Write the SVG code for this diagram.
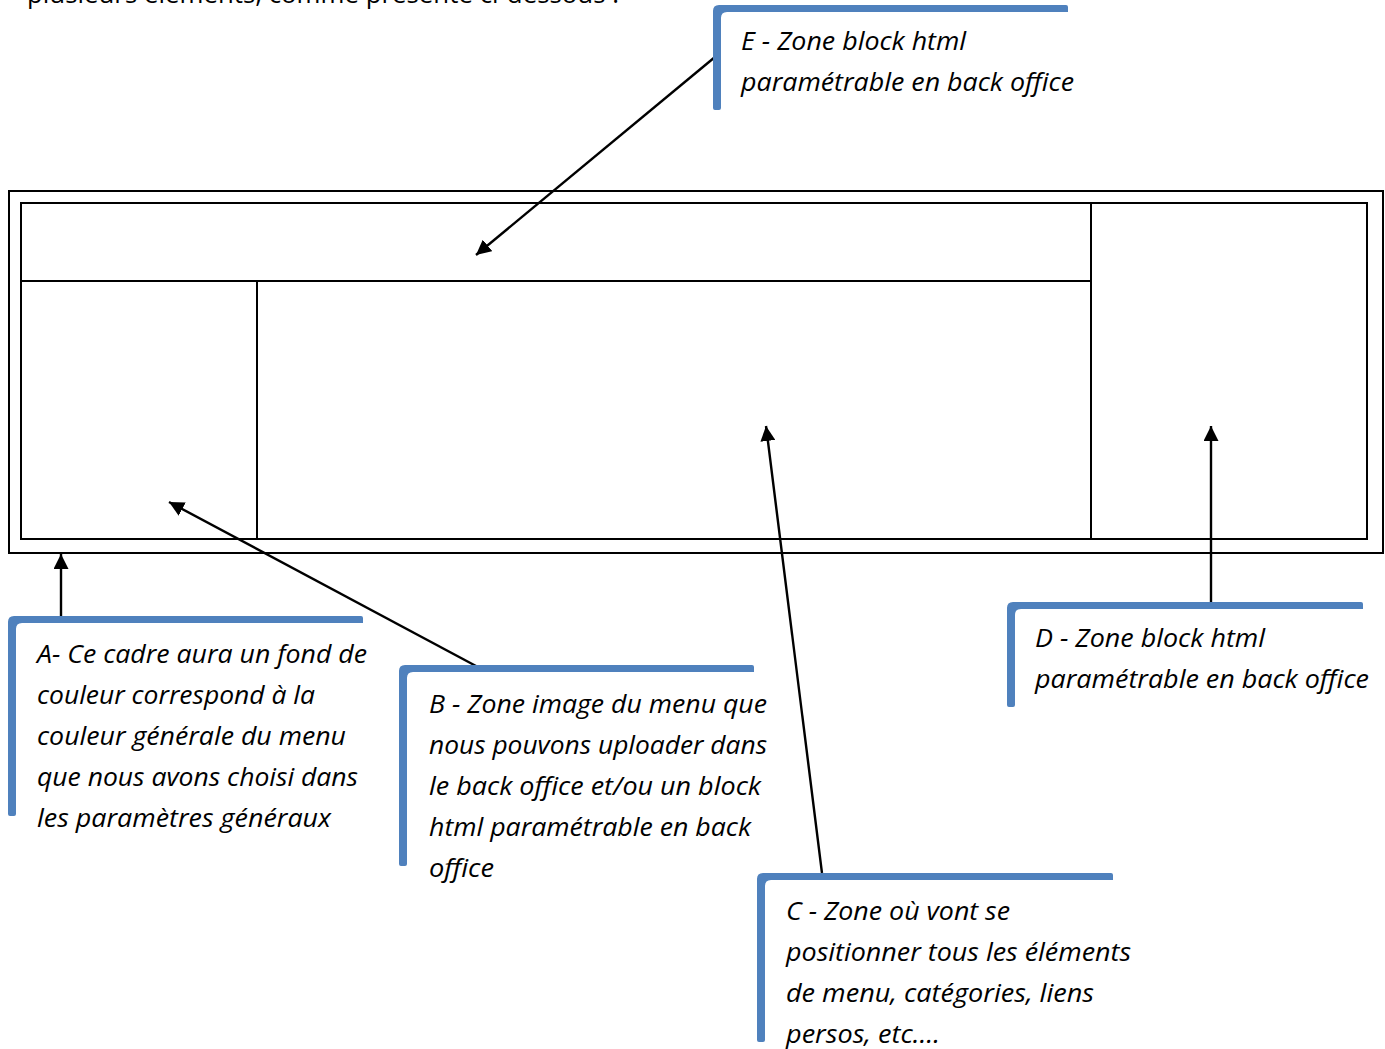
<svg xmlns="http://www.w3.org/2000/svg" width="1385" height="1049" viewBox="0 0 1385 1049">
<defs>
<marker id="arr" viewBox="0 0 12 12" refX="12" refY="6" markerWidth="15" markerHeight="15" orient="auto" markerUnits="userSpaceOnUse">
<path d="M0,0 L12,6 L0,12 Z" fill="#000"/>
</marker>
</defs>
<style>
.frame{fill:none;stroke:#000;stroke-width:2}
.conn{fill:none;stroke:#000;stroke-width:2.4;marker-end:url(#arr)}
.bar{fill:#4F81BD}
.lbl{font-family:"Open Sans","Noto Sans","Liberation Sans",sans-serif;font-style:italic;font-size:25px;fill:#000}
.top{font-family:"Open Sans","Noto Sans","Liberation Sans",sans-serif;font-size:25px;fill:#000}
</style>
<rect width="1385" height="1049" fill="#fff"/>
<text class="top" x="27" y="3" textLength="592" lengthAdjust="spacingAndGlyphs">plusieurs éléments, comme présenté ci-dessous :</text>
<g id="layout">
<rect class="frame" x="9" y="191" width="1374" height="362"/>
<rect class="frame" x="21" y="203" width="1346" height="336"/>
<line class="frame" x1="21" y1="281" x2="1091" y2="281"/>
<line class="frame" x1="257" y1="281" x2="257" y2="539"/>
<line class="frame" x1="1091" y1="203" x2="1091" y2="539"/>
</g>
<g id="connectors">
<line class="conn" x1="715" y1="57" x2="476" y2="255"/>
<line class="conn" x1="61" y1="617" x2="61" y2="554"/>
<line class="conn" x1="476" y1="666" x2="169" y2="502"/>
<line class="conn" x1="822" y1="873" x2="766" y2="426"/>
<line class="conn" x1="1211" y1="602" x2="1211" y2="426"/>
</g>
<g id="callout-E">
<path class="bar" d="M719,5 H1066 Q1068,5 1068,7 V12 H727 Q721,12 721,18 V108 Q721,110 719,110 H715 Q713,110 713,108 V11 Q713,5 719,5 Z"/>
<text class="lbl" x="741" y="50" textLength="225" lengthAdjust="spacingAndGlyphs">E - Zone block html</text>
<text class="lbl" x="741" y="91" textLength="333" lengthAdjust="spacingAndGlyphs">paramétrable en back office</text>
</g>
<g id="callout-A">
<path class="bar" d="M14,616 H361 Q363,616 363,618 V623 H22 Q16,623 16,629 V814 Q16,816 14,816 H10 Q8,816 8,814 V622 Q8,616 14,616 Z"/>
<text class="lbl" x="37" y="663" textLength="330" lengthAdjust="spacingAndGlyphs">A- Ce cadre aura un fond de</text>
<text class="lbl" x="37" y="704" textLength="278" lengthAdjust="spacingAndGlyphs">couleur correspond à la</text>
<text class="lbl" x="37" y="745" textLength="309" lengthAdjust="spacingAndGlyphs">couleur générale du menu</text>
<text class="lbl" x="37" y="786" textLength="321" lengthAdjust="spacingAndGlyphs">que nous avons choisi dans</text>
<text class="lbl" x="37" y="827" textLength="294" lengthAdjust="spacingAndGlyphs">les paramètres généraux</text>
</g>
<g id="callout-B">
<path class="bar" d="M405,665 H752 Q754,665 754,667 V672 H413 Q407,672 407,678 V864 Q407,866 405,866 H401 Q399,866 399,864 V671 Q399,665 405,665 Z"/>
<text class="lbl" x="429" y="713" textLength="338" lengthAdjust="spacingAndGlyphs">B - Zone image du menu que</text>
<text class="lbl" x="429" y="754" textLength="338" lengthAdjust="spacingAndGlyphs">nous pouvons uploader dans</text>
<text class="lbl" x="429" y="795" textLength="332" lengthAdjust="spacingAndGlyphs">le back office et/ou un block</text>
<text class="lbl" x="429" y="836" textLength="322" lengthAdjust="spacingAndGlyphs">html paramétrable en back</text>
<text class="lbl" x="429" y="877" textLength="65" lengthAdjust="spacingAndGlyphs">office</text>
</g>
<g id="callout-C">
<path class="bar" d="M763,873 H1111 Q1113,873 1113,875 V880 H771 Q765,880 765,886 V1040 Q765,1042 763,1042 H759 Q757,1042 757,1040 V879 Q757,873 763,873 Z"/>
<text class="lbl" x="786" y="920" textLength="224" lengthAdjust="spacingAndGlyphs">C - Zone où vont se</text>
<text class="lbl" x="786" y="961" textLength="345" lengthAdjust="spacingAndGlyphs">positionner tous les éléments</text>
<text class="lbl" x="786" y="1002" textLength="308" lengthAdjust="spacingAndGlyphs">de menu, catégories, liens</text>
<text class="lbl" x="786" y="1043" textLength="154" lengthAdjust="spacingAndGlyphs">persos, etc….</text>
</g>
<g id="callout-D">
<path class="bar" d="M1013,602 H1361 Q1363,602 1363,604 V609 H1021 Q1015,609 1015,615 V705 Q1015,707 1013,707 H1009 Q1007,707 1007,705 V608 Q1007,602 1013,602 Z"/>
<text class="lbl" x="1035" y="647" textLength="230" lengthAdjust="spacingAndGlyphs">D - Zone block html</text>
<text class="lbl" x="1035" y="688" textLength="334" lengthAdjust="spacingAndGlyphs">paramétrable en back office</text>
</g>
</svg>
